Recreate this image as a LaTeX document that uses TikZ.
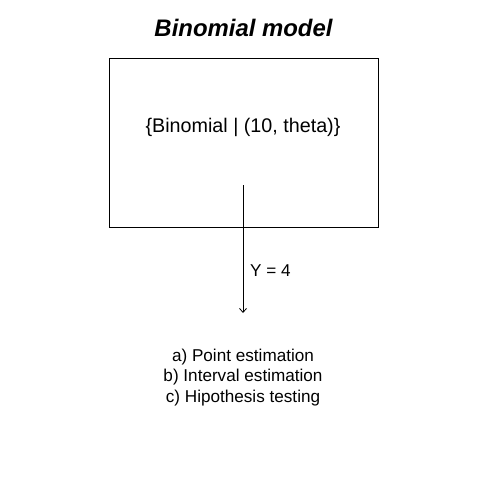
\documentclass[tikz,border=0pt]{standalone}
\usepackage{fontspec}
\setmainfont{Liberation Sans}
\usetikzlibrary{arrows.meta}
\begin{document}
\begin{tikzpicture}[x=1bp,y=-1bp,
  lbl/.style={inner sep=0pt, font=\fontsize{17.2}{21}\selectfont},
  maintxt/.style={inner sep=0pt, font=\fontsize{19.8}{23}\selectfont},
  ttl/.style={inner sep=0pt, font=\fontsize{24}{28}\selectfont\bfseries\itshape},
  frame/.style={draw, line width=0.8bp},
  conn/.style={draw, line width=0.8bp, -{Straight Barb[length=4bp,width=7bp]}}]
\useasboundingbox (0,0) rectangle (480,480);
\node[ttl] (title) at (243.5,28) {Binomial model};
\node[frame, minimum width=269bp, minimum height=169bp, inner sep=0pt] (box) at (243.5,142.5) {};
\node[maintxt] (model) at (243,127.5) {\{Binomial | (10, theta)\}};
\coordinate (start) at (243,185);
\coordinate (end) at (243,313);
\draw[conn] (start) -- (end);
\node[lbl, anchor=west] (y) at (250,270.5) {Y = 4};
\node[lbl, align=center] (list) at (243,377.5) {a) Point estimation\\b) Interval estimation\\c) Hipothesis testing};
\end{tikzpicture}
\end{document}
